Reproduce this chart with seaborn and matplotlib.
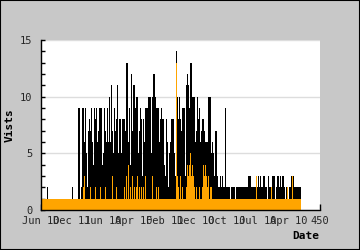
import numpy as np
import pandas as pd
import matplotlib
matplotlib.use("Agg")
import matplotlib.pyplot as plt
import seaborn as sns

visits = (
    [1] * 10 +
    [1, 2, 1, 1, 1, 1, 1, 1, 1, 1] +
    [1] * 10 +
    [1, 1, 1, 1, 1, 1, 1, 4, 1, 1] +
    [1] * 10 +
    [1, 2, 1, 1, 1, 1, 1, 1, 1, 1] +
    [9, 3, 9, 2, 1, 2, 8, 9, 7, 9] +
    [6, 9, 9, 3, 5, 2, 7, 6, 8, 3] +
    [7, 5, 9, 6, 8, 4, 9, 5, 8, 3] +
    [9, 6, 9, 7, 9, 5, 9, 8, 9, 4] +
    [7, 5, 9, 6, 7, 2, 6, 9, 5, 6] +
    [8, 10, 6, 9, 11, 7, 10, 5, 9, 6] +
    [7, 6, 8, 11, 6, 5, 8, 6, 8, 7] +
    [5, 8, 6, 8, 3, 8, 7, 13, 13, 5] +
    [13, 6, 13, 9, 4, 12, 12, 6, 7, 11] +
    [6, 11, 5, 9, 10, 6, 10, 5, 9, 7] +
    [9, 6, 8, 7, 3, 8, 7, 6, 9, 5] +
    [9, 7, 9, 10, 6, 10, 8, 10, 5, 10] +
    [10, 9, 12, 12, 7, 10, 9, 5, 9, 8] +
    [9, 6, 9, 8, 9, 7, 8, 6, 8, 4] +
    [8, 3, 8, 7, 6, 7, 2, 5, 8, 6] +
    [8, 7, 8, 6, 8, 5, 8, 3, 4, 14] +
    [10, 14, 8, 10, 6, 8, 4, 7, 9, 6] +
    [9, 5, 9, 3, 5, 11, 12, 6, 11, 9] +
    [8, 13, 6, 13, 10, 7, 10, 8, 10, 6] +
    [9, 7, 9, 10, 8, 10, 9, 6, 9, 7] +
    [8, 5, 8, 6, 7, 6, 5, 6, 3, 6] +
    [10, 7, 10, 6, 10, 5, 6, 4, 5, 3] +
    [3, 7, 2, 7, 2, 3, 2, 3, 2, 2] +
    [3, 2, 4, 3, 2, 3, 2, 9, 9, 2] +
    [2, 2, 2, 1, 2, 2, 1, 2, 1, 2] +
    [2, 1, 2, 2, 1, 2, 1, 2, 2, 1] +
    [2, 2, 2, 2, 1, 2, 2, 2, 2, 2] +
    [2, 2, 1, 2, 3, 3, 3, 3, 3, 2] +
    [2, 2, 1, 2, 2, 2, 2, 3, 3, 2] +
    [2, 3, 2, 2, 3, 2, 2, 2, 3, 3] +
    [3, 3, 2, 2, 2, 1, 2, 3, 2, 2] +
    [2, 2, 2, 3, 3, 3, 2, 3, 1, 5] +
    [2, 2, 3, 3, 3, 2, 3, 3, 2, 3] +
    [2, 3, 2, 2, 1, 2, 2, 2, 2, 1] +
    [2, 2, 1, 2, 3, 3, 3, 3, 2, 2] +
    [2, 2, 2, 1, 2, 2, 2, 2, 2, 2]
)

uniques = (
    [1] * 60 +
    [1, 1, 1, 4, 1, 1, 1, 1, 1, 2] +
    [3, 1, 1, 1, 1, 1, 2, 1, 1, 1] +
    [2, 1, 1, 1, 3, 1, 1, 1, 2, 1] +
    [1, 1, 2, 1, 1, 1, 2, 1, 1, 1] +
    [2, 1, 1, 1, 2, 1, 1, 1, 3, 1] +
    [1, 2, 1, 1, 1, 3, 1, 1, 2, 1] +
    [1, 1, 2, 1, 1, 1, 3, 1, 1, 2] +
    [1, 1, 2, 1, 1, 2, 1, 5, 3, 1] +
    [1, 4, 1, 1, 2, 1, 1, 1, 3, 1] +
    [1, 2, 1, 1, 2, 1, 3, 1, 1, 2] +
    [1, 1, 2, 1, 1, 2, 1, 1, 1, 3] +
    [1, 2, 1, 1, 3, 1, 2, 1, 1, 2] +
    [3, 1, 2, 1, 1, 1, 2, 1, 1, 1] +
    [2, 1, 1, 1, 1, 2, 1, 1, 1, 1] +
    [1, 1, 1, 2, 1, 1, 1, 1, 2, 1] +
    [1, 2, 1, 1, 1, 1, 2, 1, 1, 13] +
    [3, 1, 2, 1, 1, 3, 1, 1, 2, 1] +
    [1, 1, 2, 1, 1, 2, 4, 2, 3, 5] +
    [4, 5, 4, 3, 4, 2, 3, 1, 2, 1] +
    [1, 2, 1, 2, 1, 1, 2, 1, 1, 1] +
    [2, 1, 4, 4, 3, 4, 2, 3, 1, 2] +
    [3, 2, 1, 2, 1, 2, 1, 1, 1, 1] +
    [1, 1, 2, 1, 1, 1, 1, 1, 1, 1] +
    [1, 1, 1, 1, 1, 1, 1, 1, 1, 1] +
    [1, 1, 1, 1, 1, 2, 1, 1, 1, 1] +
    [1, 1, 1, 1, 1, 1, 1, 1, 2, 1] +
    [1, 1, 1, 1, 1, 1, 1, 1, 1, 1] +
    [1, 1, 1, 1, 2, 1, 1, 1, 1, 1] +
    [1, 1, 1, 1, 1, 1, 1, 1, 3, 1] +
    [1, 1, 1, 1, 1, 2, 1, 1, 1, 1] +
    [1, 1, 1, 1, 1, 1, 2, 1, 1, 1] +
    [1, 1, 2, 1, 1, 1, 1, 1, 1, 1] +
    [1, 1, 1, 1, 2, 1, 1, 1, 1, 1] +
    [1, 1, 1, 1, 1, 1, 1, 1, 2, 1] +
    [1, 1, 1, 1, 1, 1, 3, 1, 1, 1] +
    [1, 1, 1, 1, 1, 1, 1, 1, 1, 1]
)

x_ticks = [0, 50, 100, 150, 200, 250, 300, 350, 400, 450]
x_labels = ["Jun 10", "Dec 11", "Jun 10", "Apr 10", "Feb 11",
            "Dec 10", "Oct 10", "Jul 10", "Apr 10", "450"]
y_ticks = [0, 5, 10, 15]

n = min(len(visits), len(uniques))
df = pd.DataFrame({"idx": np.arange(n), "visits": visits[:n], "uniques": uniques[:n]})

sns.set_style("white")
plt.rcParams["font.family"] = ["DejaVu Sans Mono"]

fig = plt.figure(figsize=(3.6, 2.5), dpi=100, facecolor="#c8c8c8")
ax = fig.add_axes([41 / 360, 40 / 250, 279 / 360, 170 / 250])
ax.set_facecolor("white")

sns.barplot(data=df, x="idx", y="visits", native_scale=True, color="black",
            saturation=1, width=1.25, linewidth=0, errorbar=None, ax=ax, zorder=2)
sns.barplot(data=df, x="idx", y="uniques", native_scale=True, color="#ffa500",
            saturation=1, width=1.0, linewidth=0, errorbar=None, ax=ax, zorder=3)

ax.set_xlim(0, 450)
ax.set_ylim(0, 15)
ax.set_xticks(x_ticks)
ax.set_xticklabels(x_labels)
ax.set_yticks(y_ticks)
ax.set_yticklabels([str(v) for v in y_ticks])
ax.set_yticks(np.arange(0, 16, 1), minor=True)
ax.grid(axis="y", color="#dddddd", linewidth=1, zorder=0)
ax.set_axisbelow(True)

for s in ["top", "right"]:
    ax.spines[s].set_visible(False)
for s in ["left", "bottom"]:
    ax.spines[s].set_color("black")
    ax.spines[s].set_linewidth(1)
    ax.spines[s].set_zorder(5)

ax.tick_params(axis="x", direction="in", length=4, width=1, color="black",
               labelsize=7.5, pad=4, bottom=True)
ax.tick_params(axis="y", direction="in", length=3, width=1, color="black",
               labelsize=7.5, pad=6, left=True)
ax.tick_params(axis="y", which="minor", direction="in", length=3, width=1,
               color="black", left=True)
for t in ax.get_xticklines():
    t.set_zorder(6)

ax.set_xlabel("")
ax.set_ylabel("")
fig.text(319 / 360, 1 - 236 / 250, "Date", ha="right", va="center",
         fontsize=8, fontweight="bold", color="black")
fig.text(10 / 360, 1 - 125 / 250, "Vists", ha="center", va="center",
         rotation=90, fontsize=8, fontweight="bold", color="black")

border = plt.Rectangle((0, 0), 1, 1, transform=fig.transFigure, fill=False,
                       edgecolor="black", linewidth=1.5)
fig.patches.append(border)

fig.savefig("out.png", dpi=100, facecolor=fig.get_facecolor())
